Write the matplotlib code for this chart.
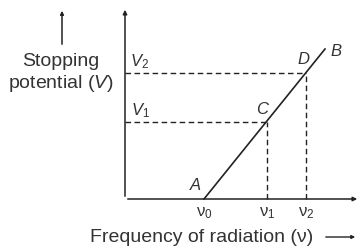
import matplotlib
matplotlib.use("Agg")
import matplotlib.pyplot as plt

# Data (graph units, origin at the axes corner)
freq_labels = ['ν$_0$', 'ν$_1$', 'ν$_2$']
freqs = [79, 142, 181]          # nu0, nu1, nu2
volt_labels = ['$V_2$', '$V_1$']
volts = [126, 77]               # V2, V1
line_end = (200, 150)           # point B
point_names = ['A', 'C', 'D', 'B']

plt.rcParams['font.family'] = ['Liberation Sans', 'DejaVu Sans']
plt.rcParams['mathtext.fontset'] = 'custom'
plt.rcParams['mathtext.rm'] = 'Liberation Sans'
plt.rcParams['mathtext.it'] = 'Liberation Sans:italic'

fig = plt.figure(figsize=(3.61, 2.51), dpi=100)
ax = fig.add_axes([0, 0, 1, 1])
ax.set_xlim(-125, 236)
ax.set_ylim(-51, 200)
ax.axis('off')

col = '#222222'
tcol = '#333333'

# axes with arrows
ax.annotate('', xy=(0, 192), xytext=(0, 0),
            arrowprops=dict(arrowstyle='-|>', color=col, lw=1.1, mutation_scale=6))
ax.annotate('', xy=(235, 0), xytext=(0, 0),
            arrowprops=dict(arrowstyle='-|>', color=col, lw=1.1, mutation_scale=6))
# small arrow above y label
ax.annotate('', xy=(-63, 191), xytext=(-63, 152),
            arrowprops=dict(arrowstyle='-|>', color=col, lw=1.1, mutation_scale=5))

# main line A -> B
ax.plot([freqs[0], line_end[0]], [0, line_end[1]], color=col, lw=1.2)

# dashed guides
for f, v in zip([freqs[1], freqs[2]], [volts[1], volts[0]]):
    ax.plot([0, f], [v, v], color=col, lw=1.0, ls=(0, (4, 2.5)))
    ax.plot([f, f], [0, v], color=col, lw=1.0, ls=(0, (4, 2.5)))

# labels
fs = 12
for f, lab in zip(freqs, freq_labels):
    ax.text(f, -13, lab, ha='center', va='center', fontsize=fs, color=tcol)
for v, lab in zip(volts, volt_labels):
    ax.text(15, v + 12, lab, ha='center', va='center', fontsize=fs, color=tcol)

ax.text(70, 15, point_names[0], ha='center', va='center', fontsize=fs, color=tcol, style='italic')
ax.text(137, 90, point_names[1], ha='center', va='center', fontsize=fs, color=tcol, style='italic')
ax.text(178, 140, point_names[2], ha='center', va='center', fontsize=fs, color=tcol, style='italic')
ax.text(211, 148, point_names[3], ha='center', va='center', fontsize=fs, color=tcol, style='italic')

ax.text(-64, 138, 'Stopping', ha='center', va='center', fontsize=14, color=tcol)
ax.text(-64, 116, 'potential ($V$)', ha='center', va='center', fontsize=14, color=tcol)

ax.text(77, -38, 'Frequency of radiation (ν)', ha='center', va='center', fontsize=14, color=tcol)
ax.annotate('', xy=(233, -38), xytext=(198, -38),
            arrowprops=dict(arrowstyle='-|>', color=col, lw=1.0, mutation_scale=5))

fig.savefig('out.png', dpi=100)
